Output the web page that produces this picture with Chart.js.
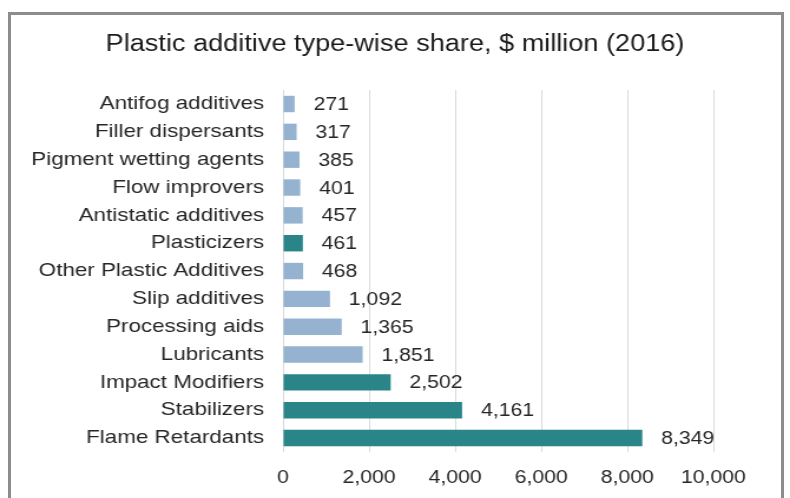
<!DOCTYPE html>
<html lang="en">
<head>
    <meta charset="UTF-8">
    <title>Plastic additive type-wise share</title>
    <script src="https://cdn.jsdelivr.net/npm/chart.js"></script>
    <style>
        body {
            margin: 0;
            padding: 0;
            background-color: #fff;
            width: 790px;
            height: 498px;
            overflow: hidden;
            position: relative;
        }
        .frame {
            position: absolute;
            left: 8px;
            top: 12px;
            width: 776px;
            height: 600px;
            box-sizing: border-box;
            border: 3px solid #8c8c8c;
        }
        .chart-box {
            position: absolute;
            left: 0;
            top: 0;
            /* the reference is stretched horizontally, so we stretch the canvas too */
            transform: scaleX(1.1791);
            transform-origin: 0 0;
        }
    </style>
</head>
<body>
<div class="frame"></div>
<div class="chart-box">
    <canvas id="additiveChart" width="670" height="498"></canvas>
</div>
<script>
    const categories = [
        'Antifog additives', 'Filler dispersants', 'Pigment wetting agents', 'Flow improvers',
        'Antistatic additives', 'Plasticizers', 'Other Plastic Additives', 'Slip additives',
        'Processing aids', 'Lubricants', 'Impact Modifiers', 'Stabilizers', 'Flame Retardants'
    ];
    const values = [271, 317, 385, 401, 457, 461, 468, 1092, 1365, 1851, 2502, 4161, 8349];
    const highlighted = ['Plasticizers', 'Impact Modifiers', 'Stabilizers', 'Flame Retardants'];
    const xTicks = [0, 2000, 4000, 6000, 8000, 10000];

    const lightBlue = '#95b3d0';
    const teal = '#2a8589';
    const barColors = categories.map(c => highlighted.includes(c) ? teal : lightBlue);
    const fontFamily = '"Liberation Sans", Arial, sans-serif';

    // Значения справа от столбцов
    const valueLabels = {
        id: 'valueLabels',
        afterDatasetsDraw(chart) {
            const ctx = chart.ctx;
            const meta = chart.getDatasetMeta(0);
            ctx.save();
            ctx.font = '18px ' + fontFamily;
            ctx.fillStyle = '#262626';
            ctx.textAlign = 'left';
            ctx.textBaseline = 'middle';
            meta.data.forEach((bar, i) => {
                const v = chart.data.datasets[0].data[i];
                ctx.fillText(v.toLocaleString('en-US'), bar.x + 16, bar.y + 1);
            });
            ctx.restore();
        }
    };

    const ctx = document.getElementById('additiveChart').getContext('2d');
    new Chart(ctx, {
        type: 'bar',
        data: {
            labels: categories,
            datasets: [{
                data: values,
                backgroundColor: barColors,
                borderWidth: 0,
                barPercentage: 0.59,
                categoryPercentage: 1
            }]
        },
        options: {
            indexAxis: 'y',
            responsive: false,
            animation: false,
            layout: {
                padding: { left: 0, right: 0, top: 0, bottom: 0 }
            },
            scales: {
                x: {
                    min: 0,
                    max: 10000,
                    afterBuildTicks: (scale) => {
                        scale.ticks = xTicks.map(v => ({ value: v }));
                    },
                    afterFit: (scale) => { scale.height = 46; },
                    grid: {
                        color: '#d9d9d9',
                        drawTicks: false
                    },
                    border: { display: false },
                    ticks: {
                        padding: 15,
                        color: '#262626',
                        font: { family: fontFamily, size: 18 },
                        callback: (v) => v.toLocaleString('en-US')
                    }
                },
                y: {
                    afterFit: (scale) => { scale.width = 240; },
                    grid: { display: false },
                    border: { display: false },
                    ticks: {
                        padding: 8,
                        color: '#262626',
                        font: { family: fontFamily, size: 19 }
                    }
                },
                // пустая ось справа: оставляет место для подписей значений,
                // чтобы заголовок был по центру всего холста
                yRight: {
                    type: 'category',
                    labels: categories,
                    position: 'right',
                    afterFit: (scale) => { scale.width = 65; },
                    grid: { display: false },
                    border: { display: false },
                    ticks: { display: false }
                }
            },
            plugins: {
                legend: { display: false },
                tooltip: { enabled: false },
                title: {
                    display: true,
                    text: 'Plastic additive type-wise share, $ million (2016)',
                    color: '#1a1a1a',
                    font: { family: fontFamily, size: 23, weight: 'normal' },
                    padding: { top: 31, bottom: 31.5 }
                }
            }
        },
        plugins: [valueLabels]
    });
</script>
</body>
</html>
